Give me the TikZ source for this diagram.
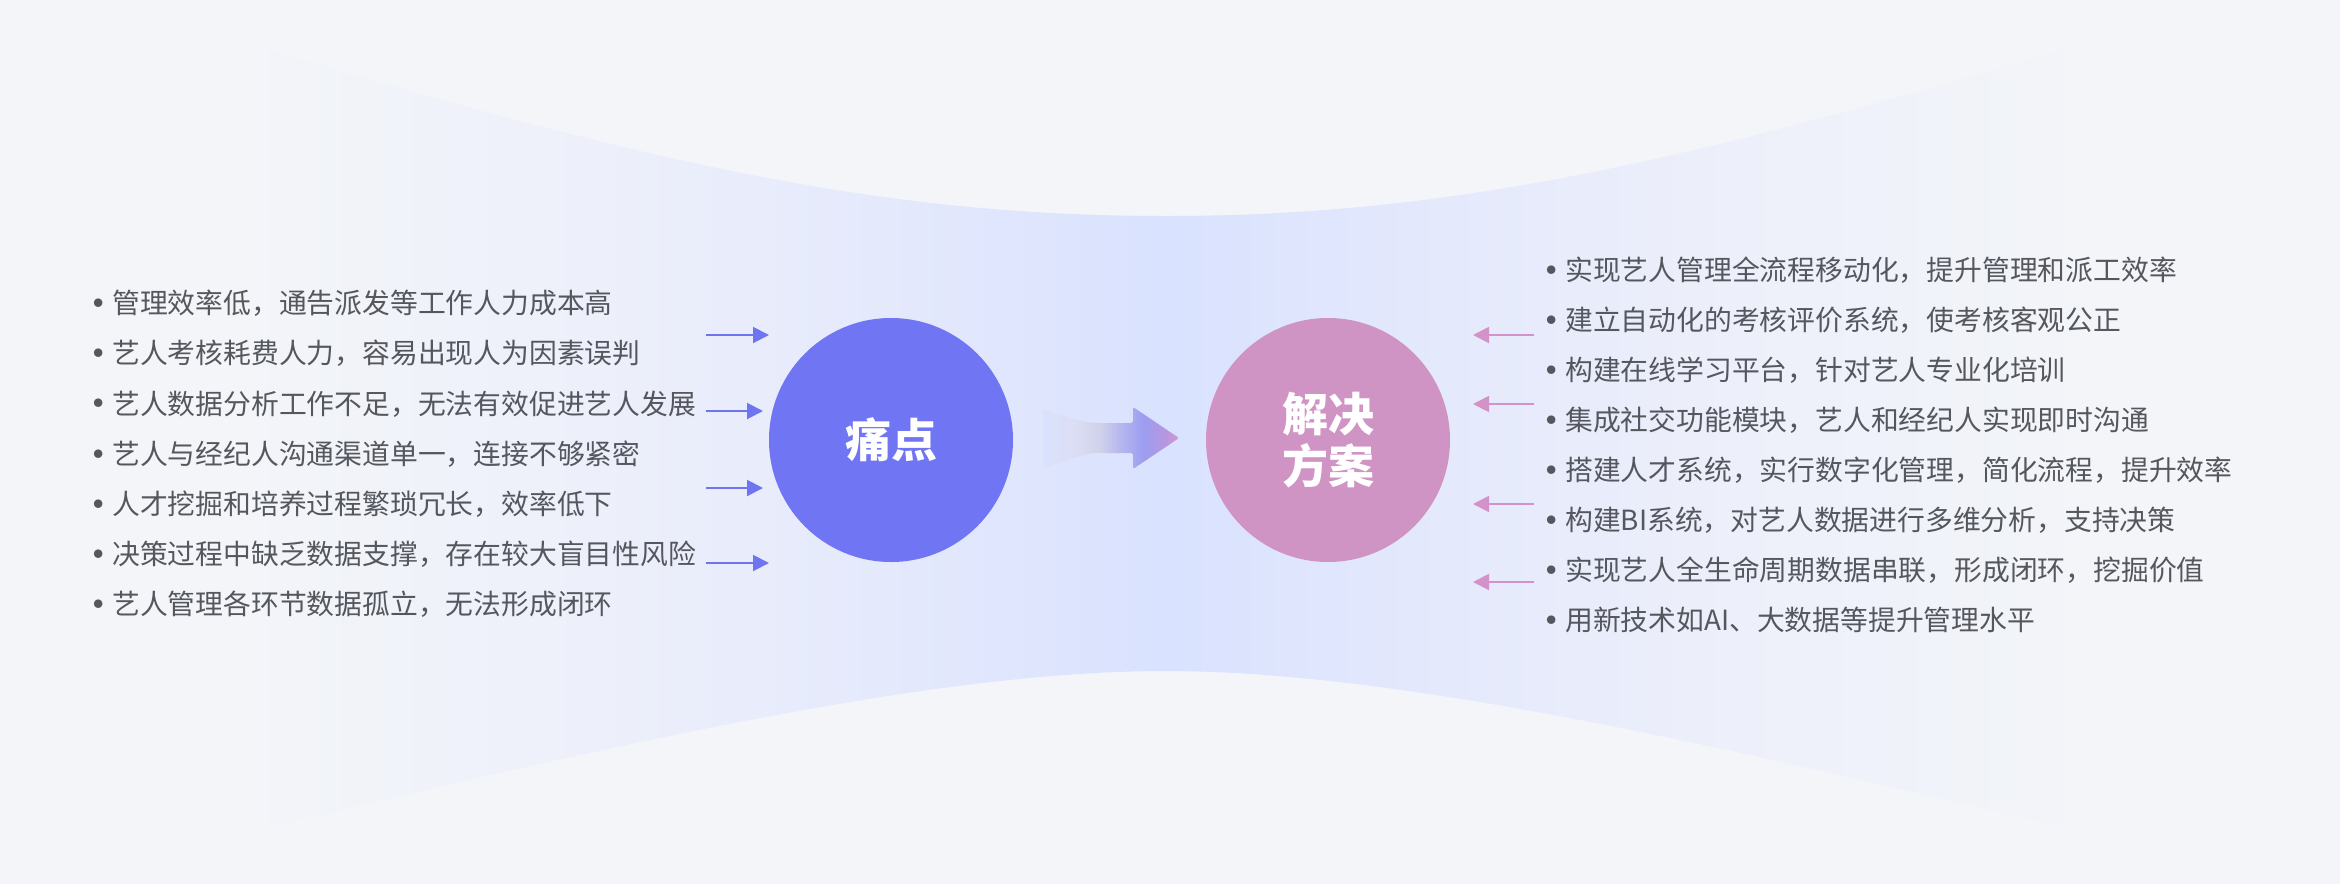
\documentclass[tikz,border=0pt]{standalone}
\usepackage{fontspec}
\usepackage{graphicx}
\newfontfamily\cjk{Noto Sans CJK SC}
\usetikzlibrary{arrows.meta}
\definecolor{bgc}{HTML}{F3F5F9}
\definecolor{bandc}{HTML}{D9E2FE}
\definecolor{bandm}{HTML}{E3E8FC}
\definecolor{bandl}{HTML}{EDF0FA}
\definecolor{painc}{HTML}{7075F3}
\definecolor{solc}{HTML}{CF93C4}
\definecolor{txtc}{HTML}{55575F}
\definecolor{bluearr}{HTML}{6F74F0}
\definecolor{pinkarr}{HTML}{D493C8}
\definecolor{aa1}{HTML}{DCDFF4}
\definecolor{aa2}{HTML}{D0D2EB}
\definecolor{aa3}{HTML}{B3B5EF}
\definecolor{aa4}{HTML}{9C9DF0}
\definecolor{aa5}{HTML}{B697E0}
\definecolor{aa6}{HTML}{D39ACD}
\pgfdeclarehorizontalshading{bandshade}{100bp}{color(0bp)=(bgc); color(25bp)=(bgc); color(27bp)=(bgc); color(36bp)=(bandl); color(44bp)=(bandm); color(50bp)=(bandc); color(56bp)=(bandm); color(64bp)=(bandl); color(73bp)=(bgc); color(75bp)=(bgc); color(100bp)=(bgc)}
\pgfdeclarehorizontalshading{arrshade}{100bp}{color(0bp)=(bandc); color(25bp)=(bandc); color(36bp)=(aa1); color(46bp)=(aa2); color(54bp)=(aa3); color(62bp)=(aa4); color(70bp)=(aa5); color(75bp)=(aa6); color(100bp)=(aa6)}
\tikzset{
  item/.style={anchor=base west, inner sep=0pt, text=txtc, font=\cjk\fontsize{27.8pt}{30pt}\selectfont},
  bigdot/.style={circle, inner sep=0pt, minimum size=244pt, text=white, align=center, font=\cjk\bfseries\fontsize{46pt}{52pt}\selectfont},
  bluear/.style={draw=bluearr, line width=2pt, -{Triangle[length=16pt,width=16pt]}},
  pinkar/.style={draw=pinkarr, line width=2pt, -{Triangle[length=16pt,width=16pt]}}
}
\newcommand{\bul}{\llap{\makebox[27pt]{\raisebox{-4.8pt}{\scalebox{1.45}{•}}}}}
\begin{document}
\begin{tikzpicture}[x=1pt,y=-1pt]
\useasboundingbox (0,0) rectangle (2340,884);
\fill[bgc] (0,0) rectangle (2340,884);
% hourglass band
\shade[shading=bandshade] (150,15) .. controls (600,150) and (850,216) .. (1165,216)
  .. controls (1480,216) and (1730,150) .. (2180,15) -- (2180,855)
  .. controls (1780,760) and (1420,671) .. (1165,671)
  .. controls (910,671) and (550,760) .. (150,855) -- cycle;
% circles
\node[bigdot, fill=painc] (pain) at (891,440) {痛点};
\node[bigdot, fill=solc] (sol) at (1328,440) {解决\\方案};
% middle arrow
\shade[shading=arrshade, rounded corners=2pt] (1043,409) .. controls (1070,418) and (1085,423) .. (1100,423)
  -- (1133,423) -- (1133,407) -- (1179,438) -- (1133,469) -- (1133,453) -- (1100,453)
  .. controls (1085,453) and (1070,459) .. (1043,468) -- cycle;
% left items
\node[item] (l1) at (112,313.7) {\bul 管理效率低，通告派发等工作人力成本高};
\node[item] (l2) at (112,363.9) {\bul 艺人考核耗费人力，容易出现人为因素误判};
\node[item] (l3) at (112,414.0) {\bul 艺人数据分析工作不足，无法有效促进艺人发展};
\node[item] (l4) at (112,464.2) {\bul 艺人与经纪人沟通渠道单一，连接不够紧密};
\node[item] (l5) at (112,514.4) {\bul 人才挖掘和培养过程繁琐冗长，效率低下};
\node[item] (l6) at (112,564.5) {\bul 决策过程中缺乏数据支撑，存在较大盲目性风险};
\node[item] (l7) at (112,614.7) {\bul 艺人管理各环节数据孤立，无法形成闭环};
% right items
\node[item] (r1) at (1565,280.7) {\bul 实现艺人管理全流程移动化，提升管理和派工效率};
\node[item] (r2) at (1565,330.7) {\bul 建立自动化的考核评价系统，使考核客观公正};
\node[item] (r3) at (1565,380.7) {\bul 构建在线学习平台，针对艺人专业化培训};
\node[item] (r4) at (1565,430.7) {\bul 集成社交功能模块，艺人和经纪人实现即时沟通};
\node[item] (r5) at (1565,480.7) {\bul 搭建人才系统，实行数字化管理，简化流程，提升效率};
\node[item] (r6) at (1565,530.7) {\bul 构建BI系统，对艺人数据进行多维分析，支持决策};
\node[item] (r7) at (1565,580.7) {\bul 实现艺人全生命周期数据串联，形成闭环，挖掘价值};
\node[item] (r8) at (1565,630.7) {\bul 用新技术如AI、大数据等提升管理水平};
% left arrows
\coordinate (la1) at (706,335); \coordinate (lb1) at (769,335);
\coordinate (la2) at (706,411); \coordinate (lb2) at (763,411);
\coordinate (la3) at (706,488); \coordinate (lb3) at (763,488);
\coordinate (la4) at (706,563); \coordinate (lb4) at (769,563);
\draw[bluear] (la1) -- (lb1);
\draw[bluear] (la2) -- (lb2);
\draw[bluear] (la3) -- (lb3);
\draw[bluear] (la4) -- (lb4);
% right arrows
\coordinate (ra1) at (1534,335); \coordinate (rb1) at (1473,335);
\coordinate (ra2) at (1534,404); \coordinate (rb2) at (1473,404);
\coordinate (ra3) at (1534,504); \coordinate (rb3) at (1473,504);
\coordinate (ra4) at (1534,582); \coordinate (rb4) at (1473,582);
\draw[pinkar] (ra1) -- (rb1);
\draw[pinkar] (ra2) -- (rb2);
\draw[pinkar] (ra3) -- (rb3);
\draw[pinkar] (ra4) -- (rb4);
\end{tikzpicture}
\end{document}
